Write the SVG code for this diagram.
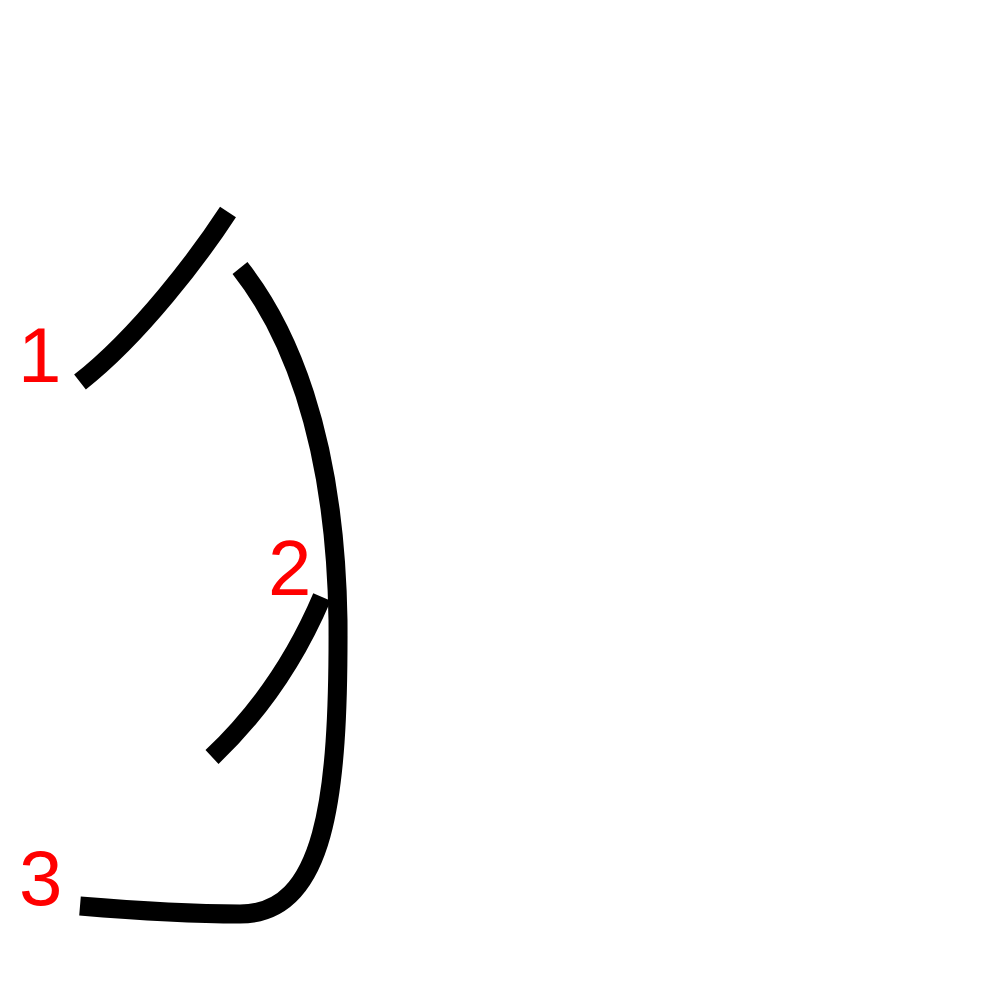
<svg xmlns="http://www.w3.org/2000/svg" width="1000" height="1000" viewBox="0 0 1000 1000">
<style>
.s{fill:none;stroke:#000;stroke-width:19;stroke-linecap:butt;stroke-linejoin:round}
.n{fill:#ff0000;font-family:"Liberation Sans",Arial,Helvetica,sans-serif;font-size:78px}
</style>
<rect width="1000" height="1000" fill="#fff"/>
<g id="strokes">
<path id="s1" class="s" d="M228,212 C200,255 140,335 80,382"/>
<path id="s2" class="s" d="M322,597 Q282,691 212,757"/>
<path id="s3" class="s" d="M240,268 C285,325 335,430 338,620 C339,800 325,914 240,914 C200,914 140,911 80,906"/>
</g>
<g id="labels">
<text id="n1" class="n" x="18" y="382">1</text>
<text id="n2" class="n" x="268" y="595">2</text>
<text id="n3" class="n" x="19" y="905">3</text>
</g>
</svg>
